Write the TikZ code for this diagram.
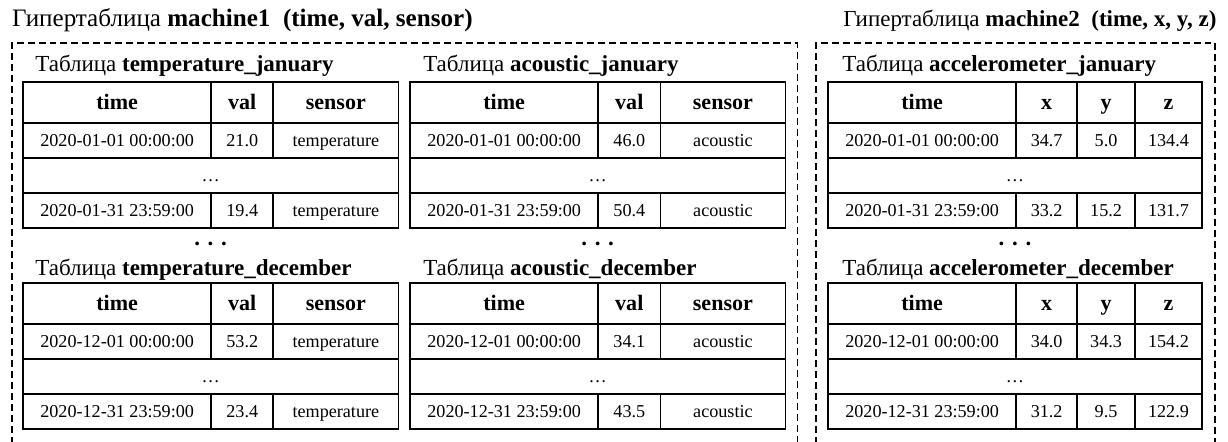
\documentclass[tikz,border=0pt]{standalone}
\usepackage{fontspec}
\setmainfont{Liberation Serif}
\usetikzlibrary{positioning}

\begin{document}
\begin{tikzpicture}[
  cell/.style={draw, rectangle, line width=1.6pt, outer sep=0pt, inner sep=0pt, minimum height=1.17cm, text height=11.7pt, text depth=0pt, font=\fontsize{17.2pt}{19pt}\selectfont},
  head/.style={cell, minimum height=1.37cm, text height=14.2pt, font=\fontsize{20.9pt}{23pt}\selectfont\bfseries},
  wtime/.style={minimum width=6.27cm},
  wval/.style={minimum width=2.07cm},
  wsensor/.style={minimum width=4.17cm},
  wx/.style={minimum width=2.03cm},
  wy/.style={minimum width=1.93cm},
  wz/.style={minimum width=2.23cm},
  wfull/.style={minimum width=12.51cm},
  wfullx/.style={minimum width=12.46cm},
  title/.style={anchor=base west, inner sep=0pt, font=\fontsize{21.8pt}{24pt}\selectfont},
  hyper/.style={anchor=base west, inner sep=0pt, font=\fontsize{23.8pt}{26pt}\selectfont},
  more/.style={inner sep=0pt, font=\fontsize{21.8pt}{24pt}\selectfont\bfseries},
  group/.style={line width=1.2pt, dash pattern=on 6.6pt off 3.8pt}
]
\useasboundingbox (0,0) rectangle (40.93,14.7);

% --- Hypertables ---
\node (m1_title) [hyper] at (0.4,13.8) {Гипертаблица \textbf{machine1\ \ (time, val, sensor)}};
\node (m2_title) [hyper, font=\fontsize{21.8pt}{24pt}\selectfont] at (28.1,13.8) {Гипертаблица \textbf{machine2\ \ (time, x, y, z)}};
\coordinate (m1_bl) at (0.4,-0.1);
\coordinate (m1_tr) at (26.57,13.27);
\coordinate (m1_br) at (26.57,-0.1);
\coordinate (m2_bl) at (27.2,-0.1);
\coordinate (m2_tr) at (40.5,13.27);
\coordinate (m2_br) at (40.5,-0.1);
\draw[group] (m1_bl) |- (m1_tr) -- (m1_br);
\draw[group] (m2_bl) |- (m2_tr) -- (m2_br);

% --- Table temperature_january ---
\node (tjan_label) [title] at (1.17,12.3) {Таблица \textbf{temperature\_january}};
\node (tjan_time) [head, wtime, anchor=north west] at (0.77,11.97) {time};
\node (tjan_val) [head, wval, right=0pt of tjan_time] {val};
\node (tjan_sensor) [head, wsensor, right=0pt of tjan_val] {sensor};
\node (tjan_a1) [cell, wtime, below=0pt of tjan_time] {2020-01-01 00:00:00};
\node (tjan_b1) [cell, wval, right=0pt of tjan_a1] {21.0};
\node (tjan_c1) [cell, wsensor, right=0pt of tjan_b1] {temperature};
\node (tjan_gap) [cell, wfull, anchor=north west] at (tjan_a1.south west) {\dots};
\node (tjan_a3) [cell, wtime, anchor=north west] at (tjan_gap.south west) {2020-01-31 23:59:00};
\node (tjan_b3) [cell, wval, right=0pt of tjan_a3] {19.4};
\node (tjan_c3) [cell, wsensor, right=0pt of tjan_b3] {temperature};

% --- Table acoustic_january ---
\node (ajan_label) [title] at (14.1,12.3) {Таблица \textbf{acoustic\_january}};
\node (ajan_time) [head, wtime, anchor=north west] at (13.67,11.97) {time};
\node (ajan_val) [head, wval, right=0pt of ajan_time] {val};
\node (ajan_sensor) [head, wsensor, right=0pt of ajan_val] {sensor};
\node (ajan_a1) [cell, wtime, below=0pt of ajan_time] {2020-01-01 00:00:00};
\node (ajan_b1) [cell, wval, right=0pt of ajan_a1] {46.0};
\node (ajan_c1) [cell, wsensor, right=0pt of ajan_b1] {acoustic};
\node (ajan_gap) [cell, wfull, anchor=north west] at (ajan_a1.south west) {\dots};
\node (ajan_a3) [cell, wtime, anchor=north west] at (ajan_gap.south west) {2020-01-31 23:59:00};
\node (ajan_b3) [cell, wval, right=0pt of ajan_a3] {50.4};
\node (ajan_c3) [cell, wsensor, right=0pt of ajan_b3] {acoustic};

% --- Table accelerometer_january ---
\node (xjan_label) [title] at (28.07,12.3) {Таблица \textbf{accelerometer\_january}};
\node (xjan_time) [head, wtime, anchor=north west] at (27.6,11.97) {time};
\node (xjan_x) [head, wx, right=0pt of xjan_time] {x};
\node (xjan_y) [head, wy, right=0pt of xjan_x] {y};
\node (xjan_z) [head, wz, right=0pt of xjan_y] {z};
\node (xjan_a1) [cell, wtime, below=0pt of xjan_time] {2020-01-01 00:00:00};
\node (xjan_b1) [cell, wx, right=0pt of xjan_a1] {34.7};
\node (xjan_c1) [cell, wy, right=0pt of xjan_b1] {5.0};
\node (xjan_d1) [cell, wz, right=0pt of xjan_c1] {134.4};
\node (xjan_gap) [cell, wfullx, anchor=north west] at (xjan_a1.south west) {\dots};
\node (xjan_a3) [cell, wtime, anchor=north west] at (xjan_gap.south west) {2020-01-31 23:59:00};
\node (xjan_b3) [cell, wx, right=0pt of xjan_a3] {33.2};
\node (xjan_c3) [cell, wy, right=0pt of xjan_b3] {15.2};
\node (xjan_d3) [cell, wz, right=0pt of xjan_c3] {131.7};

% --- Skipped months ---
\node (t_more) [more] at (7.02,6.57) {. . .};
\node (a_more) [more] at (19.92,6.57) {. . .};
\node (x_more) [more] at (33.83,6.57) {. . .};

% --- Table temperature_december ---
\node (tdec_label) [title] at (1.17,5.53) {Таблица \textbf{temperature\_december}};
\node (tdec_time) [head, wtime, anchor=north west] at (0.77,5.27) {time};
\node (tdec_val) [head, wval, right=0pt of tdec_time] {val};
\node (tdec_sensor) [head, wsensor, right=0pt of tdec_val] {sensor};
\node (tdec_a1) [cell, wtime, below=0pt of tdec_time] {2020-12-01 00:00:00};
\node (tdec_b1) [cell, wval, right=0pt of tdec_a1] {53.2};
\node (tdec_c1) [cell, wsensor, right=0pt of tdec_b1] {temperature};
\node (tdec_gap) [cell, wfull, anchor=north west] at (tdec_a1.south west) {\dots};
\node (tdec_a3) [cell, wtime, anchor=north west] at (tdec_gap.south west) {2020-12-31 23:59:00};
\node (tdec_b3) [cell, wval, right=0pt of tdec_a3] {23.4};
\node (tdec_c3) [cell, wsensor, right=0pt of tdec_b3] {temperature};

% --- Table acoustic_december ---
\node (adec_label) [title] at (14.1,5.53) {Таблица \textbf{acoustic\_december}};
\node (adec_time) [head, wtime, anchor=north west] at (13.67,5.27) {time};
\node (adec_val) [head, wval, right=0pt of adec_time] {val};
\node (adec_sensor) [head, wsensor, right=0pt of adec_val] {sensor};
\node (adec_a1) [cell, wtime, below=0pt of adec_time] {2020-12-01 00:00:00};
\node (adec_b1) [cell, wval, right=0pt of adec_a1] {34.1};
\node (adec_c1) [cell, wsensor, right=0pt of adec_b1] {acoustic};
\node (adec_gap) [cell, wfull, anchor=north west] at (adec_a1.south west) {\dots};
\node (adec_a3) [cell, wtime, anchor=north west] at (adec_gap.south west) {2020-12-31 23:59:00};
\node (adec_b3) [cell, wval, right=0pt of adec_a3] {43.5};
\node (adec_c3) [cell, wsensor, right=0pt of adec_b3] {acoustic};

% --- Table accelerometer_december ---
\node (xdec_label) [title] at (28.07,5.53) {Таблица \textbf{accelerometer\_december}};
\node (xdec_time) [head, wtime, anchor=north west] at (27.6,5.27) {time};
\node (xdec_x) [head, wx, right=0pt of xdec_time] {x};
\node (xdec_y) [head, wy, right=0pt of xdec_x] {y};
\node (xdec_z) [head, wz, right=0pt of xdec_y] {z};
\node (xdec_a1) [cell, wtime, below=0pt of xdec_time] {2020-12-01 00:00:00};
\node (xdec_b1) [cell, wx, right=0pt of xdec_a1] {34.0};
\node (xdec_c1) [cell, wy, right=0pt of xdec_b1] {34.3};
\node (xdec_d1) [cell, wz, right=0pt of xdec_c1] {154.2};
\node (xdec_gap) [cell, wfullx, anchor=north west] at (xdec_a1.south west) {\dots};
\node (xdec_a3) [cell, wtime, anchor=north west] at (xdec_gap.south west) {2020-12-31 23:59:00};
\node (xdec_b3) [cell, wx, right=0pt of xdec_a3] {31.2};
\node (xdec_c3) [cell, wy, right=0pt of xdec_b3] {9.5};
\node (xdec_d3) [cell, wz, right=0pt of xdec_c3] {122.9};

\end{tikzpicture}
\end{document}
